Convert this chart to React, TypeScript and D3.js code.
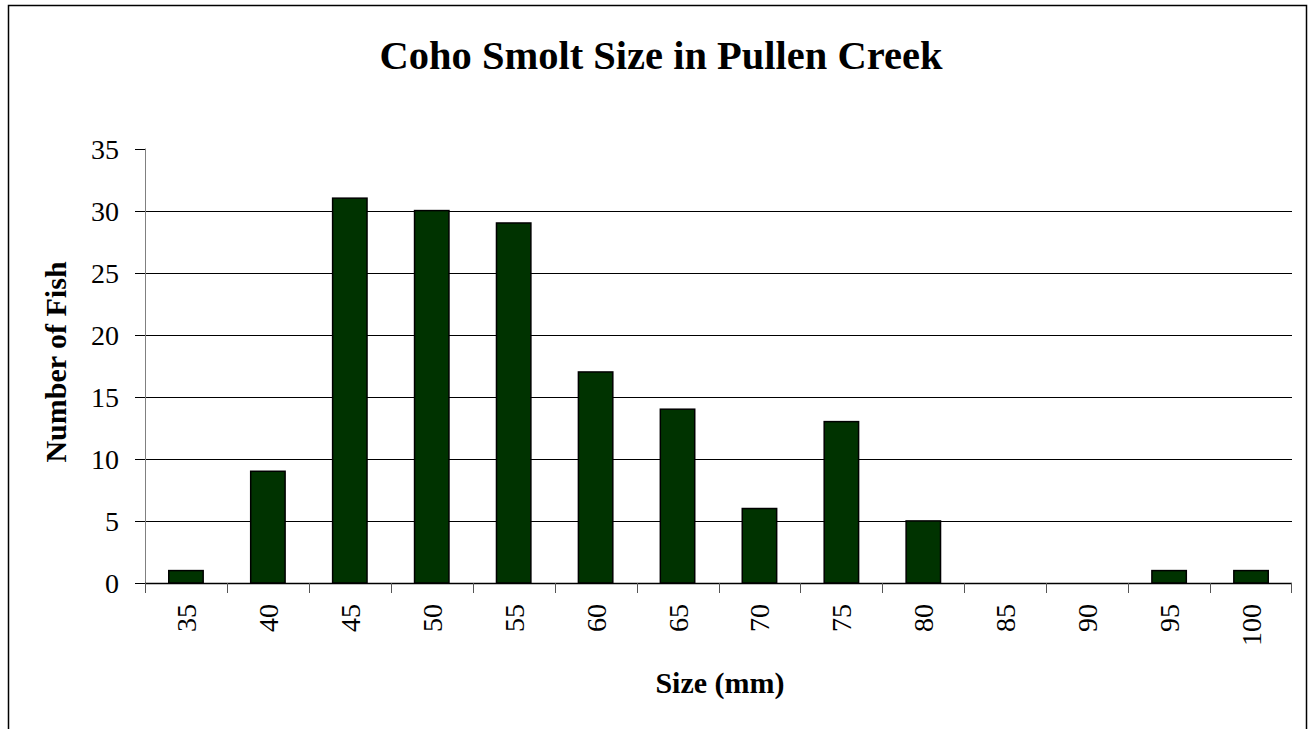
import React from "react";
import * as d3 from "d3";

const categories = ["35", "40", "45", "50", "55", "60", "65", "70", "75", "80", "85", "90", "95", "100"];
const counts = [1, 9, 31, 30, 29, 17, 14, 6, 13, 5, 0, 0, 1, 1];
const yTicks = [0, 5, 10, 15, 20, 25, 30, 35];
const gridValues = [5, 10, 15, 20, 25, 30];

const W = 1311;
const H = 729;
const plot = { left: 145, right: 1292, top: 148.5, bottom: 583 };
const FONT = "'Liberation Serif', 'Times New Roman', serif";

export default function App() {
  const x = d3.scaleBand<string>().domain(categories).range([plot.left, plot.right]).padding(0);
  const y = d3.scaleLinear().domain([0, 35]).range([plot.bottom, plot.top]);
  const bw = x.bandwidth() * 0.42;

  return (
    <svg width={W} height={H} style={{ position: "absolute", left: 0, top: 0, display: "block" }}>
      <rect x={0} y={0} width={W} height={H} fill="white" />
      <rect x={8.5} y={5.5} width={1298} height={760} fill="white" stroke="black" strokeWidth={1.5} />
      <text x={661} y={69} textAnchor="middle" fontFamily={FONT} fontWeight="bold" fontSize={40.5}>
        Coho Smolt Size in Pullen Creek
      </text>
      {gridValues.map((v) => (
        <line key={v} x1={plot.left} x2={plot.right} y1={Math.round(y(v)) + 0.5} y2={Math.round(y(v)) + 0.5} stroke="black" strokeWidth={1} />
      ))}
      {counts.map((c, i) => {
        const cx = (x(categories[i]) as number) + x.bandwidth() / 2;
        if (c <= 0) return null;
        return (
          <rect key={i} x={cx - bw / 2} y={y(c)} width={bw} height={y(0) - y(c)} fill="#003300" stroke="black" strokeWidth={1.5} />
        );
      })}
      <line x1={plot.left + 0.5} x2={plot.left + 0.5} y1={plot.top} y2={plot.bottom + 10} stroke="#808080" strokeWidth={1} />
      <line x1={plot.left} x2={plot.right} y1={plot.bottom + 0.5} y2={plot.bottom + 0.5} stroke="black" strokeWidth={1.5} />
      {yTicks.map((v) => (
        <g key={v}>
          <line x1={plot.left - 10} x2={plot.left} y1={Math.round(y(v)) + 0.5} y2={Math.round(y(v)) + 0.5} stroke="black" strokeWidth={1} />
          <text x={plot.left - 26} y={y(v) + 10} textAnchor="end" fontFamily={FONT} fontSize={28}>
            {v}
          </text>
        </g>
      ))}
      {categories.map((c) => (
        <line key={"t" + c} x1={Math.round(x(c) as number) + 0.5} x2={Math.round(x(c) as number) + 0.5} y1={plot.bottom} y2={plot.bottom + 10} stroke="#555" strokeWidth={1} />
      ))}
      <line x1={plot.right - 0.5} x2={plot.right - 0.5} y1={plot.bottom} y2={plot.bottom + 10} stroke="#555" strokeWidth={1} />
      {categories.map((c) => {
        const cx = (x(c) as number) + x.bandwidth() / 2;
        return (
          <text key={"l" + c} transform={`translate(${cx + 10},${604}) rotate(-90)`} textAnchor="end" fontFamily={FONT} fontSize={28}>
            {c}
          </text>
        );
      })}
      <text x={720} y={693} textAnchor="middle" fontFamily={FONT} fontWeight="bold" fontSize={30}>
        Size (mm)
      </text>
      <text transform={`translate(66,362) rotate(-90)`} textAnchor="middle" fontFamily={FONT} fontWeight="bold" fontSize={30}>
        Number of Fish
      </text>
    </svg>
  );
}
